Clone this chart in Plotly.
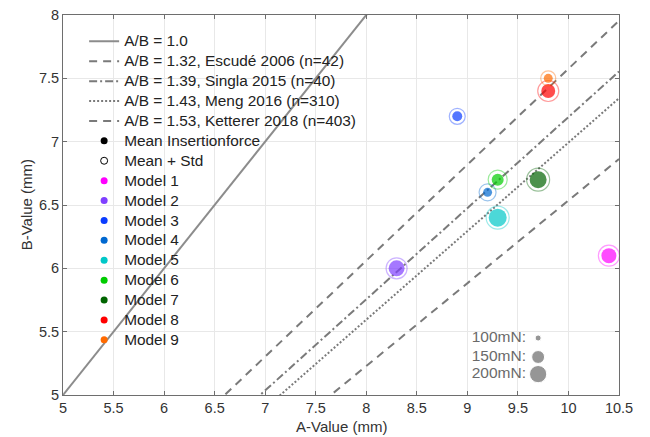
import numpy as np
import plotly.graph_objects as go

# ---- data ----
ratios = [1.0, 1.32, 1.39, 1.43, 1.53]
ratio_labels = ["A/B = 1.0", "A/B = 1.32, Escudé 2006 (n=42)", "A/B = 1.39, Singla 2015 (n=40)",
                "A/B = 1.43, Meng 2016 (n=310)", "A/B = 1.53, Ketterer 2018 (n=403)"]
ratio_dash = ["solid", "8px,6px", "8px,3px,2px,3px", "2px,2px", "8px,6px"]
ratio_colors = ["#8c8c8c", "#7a7a7a", "#7a7a7a", "#7a7a7a", "#7a7a7a"]

models = ["Model 1", "Model 2", "Model 3", "Model 4", "Model 5", "Model 6", "Model 7", "Model 8", "Model 9"]
a_values = [10.4, 8.3, 8.9, 9.2, 9.3, 9.3, 9.7, 9.8, 9.8]
b_values = [6.1, 6.0, 7.2, 6.6, 6.4, 6.7, 6.7, 7.4, 7.5]
force_mean = [173, 184, 124, 117, 211, 141, 197, 161, 117]   # mN
force_std = [83, 72, 60, 80, 78, 84, 92, 95, 56]            # mN
model_colors = ["#ff00ff", "#7f3fff", "#0a3cff", "#0068d0", "#00c8c8",
                "#00cc00", "#006400", "#ff0000", "#ff6a00"]

ref_forces = [100, 150, 200]
ref_labels = ["100mN:", "150mN:", "200mN:"]
ref_a = [9.70, 9.70, 9.70]
ref_label_a = [9.58, 9.58, 9.58]
ref_b = [5.45, 5.30, 5.165]

x_range = [5, 10.5]
y_range = [5, 8]

LEG_FS = 15.4


def force_to_diam(f):
    f = np.asarray(f, dtype=float)
    return np.sqrt(np.clip(2.6 * (f - 86.0), 1, None))


def leg(name):
    return '<span style="font-size:%.1fpx">%s</span>' % (LEG_FS, name)


fig = go.Figure()

A = np.linspace(x_range[0], x_range[1], 200)
for r, lab, d, c in zip(ratios, ratio_labels, ratio_dash, ratio_colors):
    fig.add_trace(go.Scatter(x=A, y=A / r, mode="lines", name=leg(lab),
                             line=dict(color=c, width=2, dash=d),
                             hoverinfo="skip"))

# legend-only entries
fig.add_trace(go.Scatter(x=[None], y=[None], mode="markers", name=leg("Mean Insertionforce"),
                         marker=dict(size=7, color="black")))
fig.add_trace(go.Scatter(x=[None], y=[None], mode="markers", name=leg("Mean + Std"),
                         marker=dict(size=7, color="white", line=dict(color="black", width=1))))
for m, c in zip(models, model_colors):
    fig.add_trace(go.Scatter(x=[None], y=[None], mode="markers", name=leg(m),
                             marker=dict(size=7, color=c)))

# data markers
for i, m in enumerate(models):
    c = model_colors[i]
    fig.add_trace(go.Scatter(x=[a_values[i]], y=[b_values[i]], mode="markers", showlegend=False,
                             marker=dict(size=force_to_diam([force_mean[i] + force_std[i]]),
                                         color="rgba(0,0,0,0)",
                                         line=dict(color=c, width=1.2)),
                             opacity=0.55, hoverinfo="skip"))
    fig.add_trace(go.Scatter(x=[a_values[i]], y=[b_values[i]], mode="markers", showlegend=False,
                             marker=dict(size=force_to_diam([force_mean[i]]), color=c,
                                         line=dict(width=0)),
                             name=m))

# size reference legend
fig.add_trace(go.Scatter(x=ref_a, y=ref_b, mode="markers", showlegend=False,
                         marker=dict(size=force_to_diam(ref_forces), color="#6a6a6a"),
                         hoverinfo="skip"))
fig.add_trace(go.Scatter(x=ref_label_a, y=ref_b, mode="text", showlegend=False,
                         text=ref_labels, textposition="middle left",
                         textfont=dict(size=15.5, color="#6a6a6a"),
                         hoverinfo="skip"))

axis_common = dict(showgrid=True, gridcolor="#e8e8e8", gridwidth=1,
                   showline=True, linecolor="#6e6e6e", linewidth=1, mirror="ticks",
                   ticks="inside", ticklen=4, tickcolor="#6e6e6e",
                   zeroline=False, automargin=False, ticklabeloverflow="allow",
                   tickfont=dict(size=14.5, color="#333333"))

fig.update_xaxes(range=x_range, dtick=0.5, tick0=5, **axis_common)
fig.update_yaxes(range=y_range, dtick=0.5, tick0=5, **axis_common)

fig.add_annotation(text="A-Value (mm)", xref="paper", yref="paper", x=0.5, y=-0.083,
                   xanchor="center", yanchor="middle", showarrow=False,
                   font=dict(size=15, color="#333333"))
fig.add_annotation(text="B-Value (mm)", xref="paper", yref="paper", x=-0.066, y=0.5,
                   xanchor="center", yanchor="middle", showarrow=False, textangle=-90,
                   font=dict(size=15, color="#333333"))

fig.update_layout(width=650, height=437,
                  margin=dict(l=63, r=31, t=15, b=42),
                  paper_bgcolor="white", plot_bgcolor="white",
                  font=dict(family="Liberation Sans, Arial, sans-serif", size=13, color="#333333"),
                  showlegend=True,
                  legend=dict(x=0.038, y=0.97, xanchor="left", yanchor="top",
                              bgcolor="rgba(0,0,0,0)", borderwidth=0,
                              font=dict(size=13, color="#222222"),
                              tracegroupgap=0, itemwidth=30))

fig.write_html("out.html",
               config={"displayModeBar": False},
               post_script="document.body.style.margin='0';document.body.style.overflow='hidden';")
